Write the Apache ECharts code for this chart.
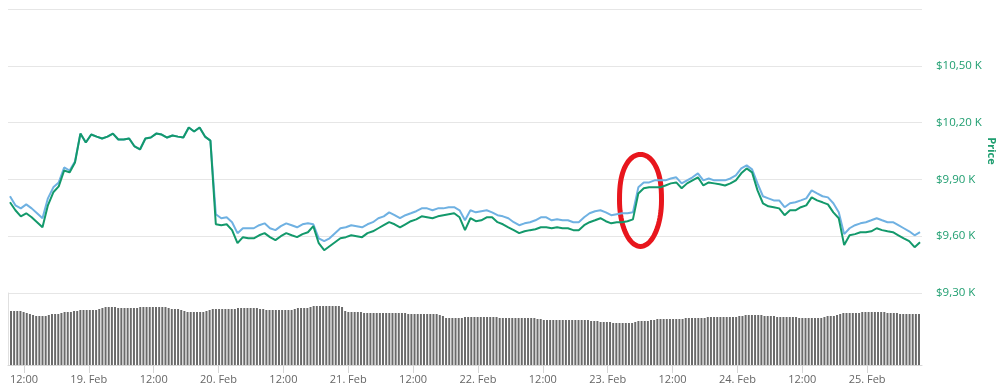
<!DOCTYPE html>
<html><head><meta charset="utf-8">
<script src="https://cdn.jsdelivr.net/npm/echarts@6/dist/echarts.min.js"></script>
<style>html,body{margin:0;padding:0;background:#fff}#c{width:1000px;height:391px}</style>
</head><body><div id="c"></div>
<script>
// time base (UTC): first sample 18 Feb 2020 09:36, lines hourly, volume every 35 min
const START = Date.UTC(2020, 1, 18, 9, 36);
const LINE_STEP_MIN = 60;
const VOL_STEP_MIN = 35;
const AXIS_MIN = Date.UTC(2020, 1, 18, 9, 14);
const AXIS_MAX = Date.UTC(2020, 1, 25, 9, 58);
const MONTHS = ['Jan','Feb','Mar','Apr','May','Jun','Jul','Aug','Sep','Oct','Nov','Dec'];

// price ticks
const priceMin = 9300, priceMax = 10800, priceStep = 300;

// blue series (USD)
const priceBlue = [
9811,9763,9747,9768,9747,9721,9695,9800,9858,9884,9963,9947,9995,
10142,10095,10137,10126,10116,10126,10142,10111,10111,10116,10074,10058,10116,10121,10142,10137,10121,10132,10126,10121,10174,10153,10174,10126,10105,
9716,9695,9700,9674,9616,9642,9642,9642,9658,9668,9642,9632,9653,9668,9658,9647,9663,9668,9663,
9589,9574,9589,9616,9642,9647,9658,9653,9647,9663,9674,9695,9705,9726,9711,9695,9711,9721,9732,9747,9747,9737,9747,9747,9753,9753,9737,
9684,9737,9726,9732,9737,9726,9711,9705,9695,9674,9658,9668,9674,9684,9700,9700,9684,9689,9684,9684,9674,9674,9700,9721,9732,9737,9726,9711,9716,9721,9721,9726,
9858,9884,9884,9895,9895,9895,9905,9911,9879,9895,9911,9932,9895,9905,9895,9895,9895,9905,9921,9958,9974,9953,
9879,9811,9800,9789,9789,9753,9774,9779,9789,9800,9842,9826,9811,9805,9774,9726,
9611,9642,9658,9668,9674,9684,9695,9684,9674,9674,9658,9642,9626,9605,9621
];

// green series
const priceGreen = [
9779,9737,9705,9721,9700,9674,9647,9763,9832,9863,9947,9937,9989,
10142,10095,10137,10126,10116,10126,10142,10111,10111,10116,10074,10058,10116,10121,10142,10137,10121,10132,10126,10121,10174,10153,10174,10126,10105,
9663,9658,9663,9632,9563,9595,9589,9589,9605,9616,9595,9579,9600,9616,9605,9595,9611,9621,9653,
9563,9526,9547,9568,9589,9595,9605,9600,9595,9616,9626,9642,9658,9674,9663,9647,9663,9679,9689,9705,9700,9695,9705,9711,9716,9721,9700,
9632,9695,9679,9684,9700,9700,9674,9663,9647,9632,9616,9626,9632,9637,9647,9647,9642,9647,9642,9642,9632,9632,9658,9674,9684,9695,9679,9668,9674,9674,9679,9689,
9826,9853,9858,9858,9858,9868,9879,9884,9853,9879,9895,9911,9868,9884,9879,9874,9868,9879,9895,9932,9958,9937,
9842,9774,9758,9753,9747,9711,9737,9737,9753,9763,9805,9789,9779,9768,9726,9695,
9553,9605,9611,9621,9621,9626,9642,9632,9626,9621,9605,9589,9574,9542,9568
];

// volume (relative units)
const volume = [
54,54,54,54,53, 52,51,50, 49,49,49,49,50, 51,51,51,52, 53,53,53,54,54,
55,55,55,55,55,55,56,57, 58,58,58,58, 57,57,57,57,57,57,57,58,
58,58,58,58,58,58,58,58,57, 56,56,56,55,54,53, 53,53,53,53,53,54,55,56,
56,56,56,56,56,56,56,57, 57,57,57,57,57,57,56,56,55, 55,55,55,55,55,55,55,55,56,
57,57,57,57,58, 59,59,59,59,59,59,59,59,59,58, 54,53,53,53,53,53,
52,52,52,52,52,52,52,52,52,52,52,52,52,52,51, 51,51,51,51,51,51,51,51,51,50,49,
47,47,47,47,47,47,48, 48,48,48,48,48,48,48,48,48,48,47,
47,47,47,47,47,47,47,47,47,47,47,46,46,
45,45,45,45,45,45,45,45,45,45,45,45,45,45,45,44,44,44, 43,43,43,43, 42,42,42,42,42,42,42,
43,44,44,44,44,45,45, 46,46,46,46,46,46,46,46,46,47, 47,47,47,47,47,47,
48,48,48,48,48,48,48,48,48,48,49,49, 50,50,50,50,50,50, 49,49,49,49,
48,48,48,48,48,48,48,47, 47,47,47,47,47,47,47,48, 49,49,49,50,51,
52,52,52,52,52,52,53, 53,53,53,53,53,53,53, 52,52,52,52, 51,51,51,51,51,51,51
];

// annotation (hand-drawn red ellipse) anchored in data space
const markTime = Date.UTC(2020, 1, 23, 6, 0);
const markPrice = 9789;

const GREEN = '#13996b', BLUE = '#6fb1e2', LABEL_GREEN = '#1f9e70';
const FONT = 'Open Sans';
const H12 = 12 * 3600e3;

const lineT = i => START + i * LINE_STEP_MIN * 60000;
const volT = i => START + i * VOL_STEP_MIN * 60000;
const blueData = priceBlue.map((v, i) => [lineT(i), v]);
const greenData = priceGreen.map((v, i) => [lineT(i), v]);
const volData = volume.map((v, i) => [volT(i), v]);

function timeLabel(val) {
  const d = new Date(val);
  const h = d.getUTCHours(), m = d.getUTCMinutes();
  if (h === 0 && m === 0) return d.getUTCDate() + '. ' + MONTHS[d.getUTCMonth()];
  if (h === 12 && m === 0) return '12:00';
  return '';
}

const chart = echarts.init(document.getElementById('c'), null, {renderer: 'canvas'});
chart.setOption({
  animation: false,
  useUTC: true,
  backgroundColor: '#fff',
  textStyle: {fontFamily: FONT},
  grid: [
    {left: 8, right: 78, top: 9, height: 284, containLabel: false, outerBoundsMode: 'none'},
    {left: 8, right: 78, top: 293, height: 72, containLabel: false, outerBoundsMode: 'none'}
  ],
  xAxis: [
    {type: 'time', gridIndex: 0, min: AXIS_MIN, max: AXIS_MAX, show: false, splitLine: {show: false}},
    {type: 'time', gridIndex: 1, min: AXIS_MIN, max: AXIS_MAX,
     splitNumber: 14, minInterval: H12 * 1.05, maxInterval: H12 * 1.5,
     axisLine: {show: true, lineStyle: {color: '#d6d6d6', width: 1}},
     axisTick: {show: true, length: 8, lineStyle: {color: '#d6d6d6'}},
     splitLine: {show: false},
     axisLabel: {color: '#666', fontSize: 11, fontFamily: FONT, margin: 9, formatter: timeLabel, hideOverlap: false}
    }
  ],
  yAxis: [
    {type: 'value', gridIndex: 0, position: 'right', min: priceMin, max: priceMax, interval: priceStep,
     axisLine: {show: false}, axisTick: {show: false},
     splitLine: {show: true, lineStyle: {color: '#e6e6e6', width: 1}},
     axisLabel: {color: LABEL_GREEN, fontSize: 11.5, fontFamily: FONT, margin: 14, showMaxLabel: false,
       formatter: v => '$' + (v / 1000).toFixed(2).replace('.', ',') + ' K'},
     name: 'Price', nameLocation: 'middle', nameRotate: -90, nameGap: 64, nameMoveOverlap: false,
     nameTextStyle: {color: LABEL_GREEN, fontWeight: 'bold', fontSize: 11, fontFamily: FONT}
    },
    {type: 'value', gridIndex: 1, position: 'left', min: 0, max: 72,
     axisLine: {show: true, lineStyle: {color: '#e0e0e0'}}, axisTick: {show: false},
     axisLabel: {show: false}, splitLine: {show: false}}
  ],
  series: [
    {type: 'bar', xAxisIndex: 1, yAxisIndex: 1, data: volData, barWidth: 2,
     itemStyle: {color: '#6a6a6a'}, silent: true},
    {type: 'line', xAxisIndex: 0, yAxisIndex: 0, data: blueData, showSymbol: false,
     lineStyle: {color: BLUE, width: 2}, itemStyle: {color: BLUE}, silent: true},
    {type: 'line', xAxisIndex: 0, yAxisIndex: 0, data: greenData, showSymbol: false,
     lineStyle: {color: GREEN, width: 2}, itemStyle: {color: GREEN}, silent: true}
  ]
});

// red hand-drawn ellipse annotation
const c = chart.convertToPixel({xAxisIndex: 0, yAxisIndex: 0}, [markTime, markPrice]);
const rx = 21, ry = 46, pts = [];
for (let k = 0; k <= 80; k++) {
  const a = k / 80 * Math.PI * 2;
  const s = Math.sin(a), co = Math.cos(a);
  const yy = co > 0 ? -Math.pow(co, 0.8) : -co;
  pts.push([c[0] + rx * s, c[1] + ry * yy]);
}
chart.setOption({graphic: [{type: 'polygon', shape: {points: pts}, silent: true,
  style: {fill: 'none', stroke: '#e8161d', lineWidth: 5}}]});
</script></body></html>
